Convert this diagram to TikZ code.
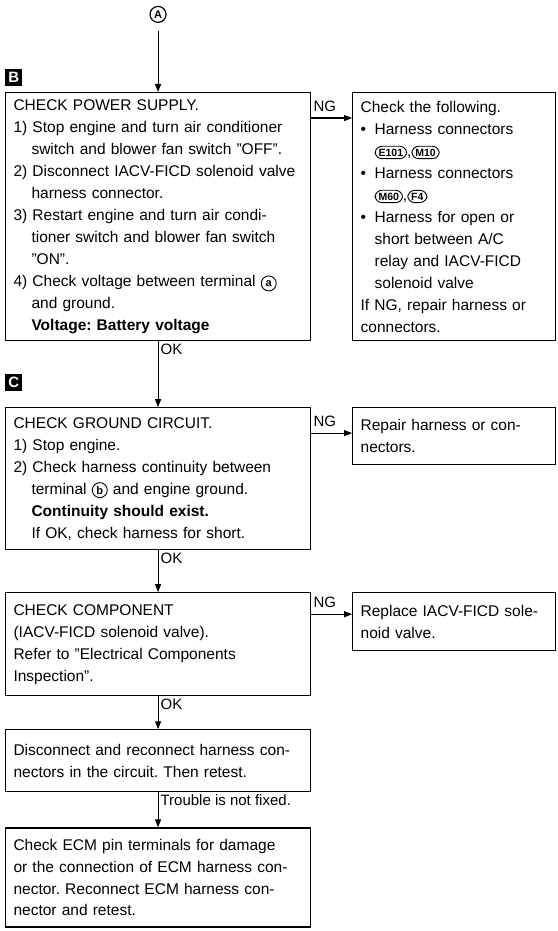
\documentclass[tikz,border=0pt]{standalone}
\usepackage{fontspec}
\setmainfont{Liberation Sans}
\usetikzlibrary{arrows.meta,positioning}
\frenchspacing
\newcommand{\term}[1]{\tikz[baseline=(t.base)]\node[circle,draw,line width=0.9pt,text width=,minimum width=0pt,minimum height=0pt,minimum size=15pt,inner sep=0pt,font=\fontsize{11}{11}\selectfont\bfseries] (t) {#1};}
\newcommand{\conn}[1]{\tikz[baseline=(c.base)]\node[draw,line width=0.9pt,rounded corners=7pt,text width=,minimum width=0pt,minimum height=0pt,inner xsep=3.5pt,inner ysep=2.5pt,font=\fontsize{10.5}{11}\selectfont\bfseries] (c) {#1};}
\newcommand{\ind}{\hspace*{18pt}}
\newcommand{\bul}{\makebox[14pt][l]{\textbullet}}
\newcommand{\bind}{\hspace*{14pt}}

\begin{document}
\begin{tikzpicture}[x=1pt,y=1pt,
node distance=40pt and 41pt,
chk/.style={rectangle,draw,line width=1.1pt,text width=289pt,inner xsep=8pt,inner ysep=6pt,align=left,font=\fontsize{15.5}{22}\selectfont},
fix/.style={chk,text width=187pt},
tag/.style={rectangle,fill=black,text=white,minimum size=17pt,inner sep=0pt,font=\fontsize{15}{15}\selectfont\bfseries},
lbl/.style={inner sep=2pt,font=\fontsize{15}{15}\selectfont},
arr/.style={-{Triangle[length=8pt,width=6pt]},line width=1.1pt}
]
\useasboundingbox (0,0) rectangle (557,-931);
\node[chk,anchor=north west,minimum height=248pt] (pwr) at (5,-92) {CHECK POWER SUPPLY.\\
1) Stop engine and turn air conditioner\\
\ind switch and blower fan switch ''OFF''.\\
2) Disconnect IACV-FICD solenoid valve\\
\ind harness connector.\\
3) Restart engine and turn air condi-\\
\ind tioner switch and blower fan switch\\
\ind ''ON''.\\
4) Check voltage between terminal \term{a}\\
\ind and ground.\\
\ind\textbf{Voltage: Battery voltage}};
\node[fix,minimum height=248pt,right=41pt of pwr.north east,anchor=north west] (pwrng) {Check the following.\\
\bul Harness connectors\\
\bind\conn{E101},\conn{M10}\\
\bul Harness connectors\\
\bind\conn{M60},\conn{F4}\\
\bul Harness for open or\\
\bind short between A/C\\
\bind relay and IACV-FICD\\
\bind solenoid valve\\
If NG, repair harness or\\
connectors.};
\node[tag,above=6pt of pwr.north west,anchor=south west] (tagb) {B};
\node[circle,draw,line width=1.2pt,minimum size=16pt,inner sep=0pt,font=\fontsize{11}{11}\selectfont\bfseries,above=69pt of pwr] (a) {A};

\node[chk,minimum height=142pt,below=66pt of pwr] (gnd) {CHECK GROUND CIRCUIT.\\
1) Stop engine.\\
2) Check harness continuity between\\
\ind terminal \term{b} and engine ground.\\
\ind\textbf{Continuity should exist.}\\
\ind If OK, check harness for short.};
\node[fix,minimum height=57pt,right=41pt of gnd.north east,anchor=north west] (gndng) {Repair harness or con-\\nectors.};
\node[tag,above=16pt of gnd.north west,anchor=south west] (tagc) {C};

\node[chk,minimum height=103pt,below=42pt of gnd] (comp) {CHECK COMPONENT\\
(IACV-FICD solenoid valve).\\
Refer to ''Electrical Components\\
Inspection''.};
\node[fix,minimum height=58pt,right=41pt of comp.north east,anchor=north west] (compng) {Replace IACV-FICD sole-\\noid valve.};

\node[chk,minimum height=62pt,below=33pt of comp] (recon) {Disconnect and reconnect harness con-\\nectors in the circuit. Then retest.};
\node[chk,minimum height=99pt,below=35pt of recon] (ecm) {Check ECM pin terminals for damage\\
or the connection of ECM harness con-\\
nector. Reconnect ECM harness con-\\
nector and retest.};

\draw[arr,shorten <=8pt] (a) -- (pwr);
\draw[arr] (pwr) -- (gnd) node[lbl,pos=0,below right] {OK};
\draw[arr] (gnd) -- (comp) node[lbl,pos=0,below right] {OK};
\draw[arr] (comp) -- (recon) node[lbl,pos=0,below right] {OK};
\draw[arr] (recon) -- (ecm) node[lbl,pos=0,below right] {Trouble is not fixed.};
\draw[arr] ([yshift=-26pt]pwr.north east) -- ([yshift=-26pt]pwr.north east -| pwrng.west) node[lbl,pos=0,above right,yshift=4pt] {NG};
\draw[arr] ([yshift=-26pt]gnd.north east) -- ([yshift=-26pt]gnd.north east -| gndng.west) node[lbl,pos=0,above right,yshift=4pt] {NG};
\draw[arr] ([yshift=-22pt]comp.north east) -- ([yshift=-22pt]comp.north east -| compng.west) node[lbl,pos=0,above right,yshift=4pt] {NG};
\end{tikzpicture}
\end{document}
